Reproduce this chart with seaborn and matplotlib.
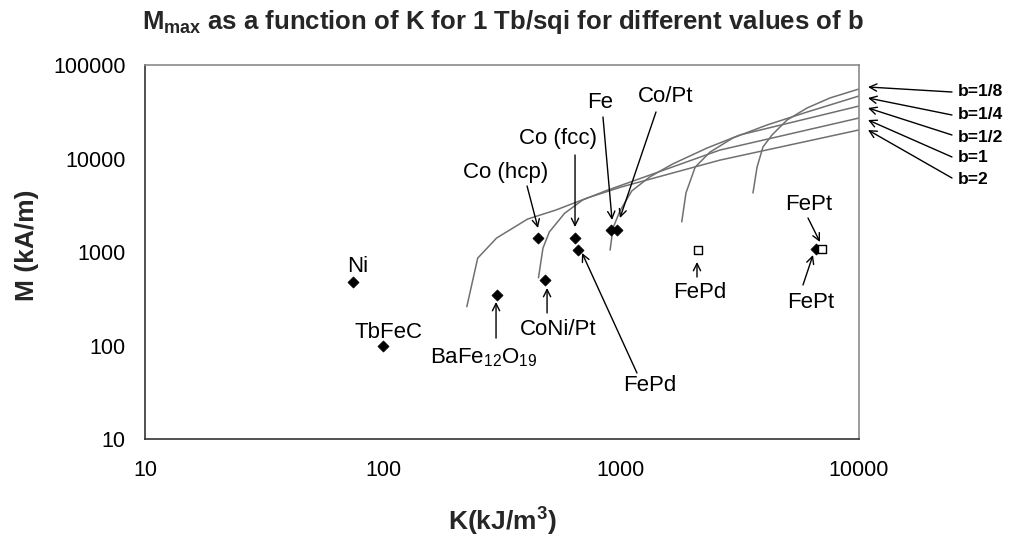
import numpy as np
import pandas as pd
import matplotlib
matplotlib.use("Agg")
import matplotlib.pyplot as plt
import seaborn as sns

# ---------------- data ----------------
b_labels = ["b=1/8", "b=1/4", "b=1/2", "b=1", "b=2"]

K_b18 = [3585, 3730, 3950, 4310, 4985, 6050, 7550, 10000]
M_b18 = [4280, 8100, 13300, 17850, 25800, 34700, 44400, 55400]
K_b14 = [1800, 1875, 2050, 2365, 2955, 4100, 6050, 10000]
M_b14 = [2100, 4280, 8100, 11700, 16600, 22800, 31400, 46600]
K_b12 = [900, 925, 990, 1110, 1320, 1650, 2300, 3160, 10000]
M_b12 = [1050, 1800, 2750, 4500, 6350, 8750, 12950, 17850, 36400]
K_b1 = [450, 470, 500, 580, 690, 860, 2600, 10000]
M_b1 = [530, 1100, 1640, 2600, 3600, 4500, 12300, 27100]
K_b2 = [225, 250, 300, 405, 530, 725, 1000, 2600, 10000]
M_b2 = [260, 860, 1410, 2250, 2800, 3800, 4950, 9600, 20200]

filled_names = ["Ni", "TbFeC", "BaFe12O19", "CoNi/Pt", "Co (hcp)", "Co (fcc)",
                "FePd", "Fe", "Co/Pt", "FePt"]
filled_K = [75, 100, 300, 480, 450, 640, 660, 910, 960, 6600]
filled_M = [480, 100, 350, 500, 1400, 1400, 1050, 1700, 1720, 1080]
open_names = ["FePd", "FePt"]
open_K = [2100, 7000]
open_M = [1050, 1080]

x_ticks = [10, 100, 1000, 10000]
x_ticklabels = ["10", "100", "1000", "10000"]
y_ticks = [10, 100, 1000, 10000, 100000]
y_ticklabels = ["10", "100", "1000", "10000", "100000"]

title_text = r"$\mathbf{M_{max}}$ as a function of K for 1 Tb/sqi for different values of b"
xlabel_text = r"K(kJ/m$^{\mathbf{3}}$)"
ylabel_text = "M (kA/m)"

# material annotations: text, text position (K, M), arrow tail, arrow tip
mat_texts = ["Ni", "TbFeC", r"BaFe$_{\mathregular{12}}$O$_{\mathregular{19}}$", "CoNi/Pt",
             "FePd", "Co (hcp)", "Co (fcc)", "Fe", "Co/Pt", "FePd", "FePt", "FePt"]
mat_text_pos = [(78.5, 708), (105, 139), (266, 73.5), (544, 150),
                (1324, 36.9), (329, 7171), (544, 16170), (816, 40200), (1546, 46600),
                (2147, 373), (6165, 3261), (6285, 285)]
mat_arrow_tail = [None, None, (298.5, 120), (489, 223),
                  (1167, 50.8), (403, 5080), (641, 10900), (840, 27790), (1403, 31430),
                  (2086, 540), (6106, 2310), (5817, 444)]
mat_arrow_tip = [None, None, (298.5, 292), (489, 412),
                 (686, 976), (448, 1806), (641, 1851), (917, 2199), (990, 2310),
                 (2086, 782), (6857, 1279), (6408, 929)]

# b-label annotations
b_text_pos = [(26060, 52060), (26060, 29910), (26060, 16980), (26060, 10250), (26060, 6036)]
b_arrow_tail = [(24590, 51420), (24590, 29190), (24590, 17840), (24590, 10380), (24590, 6184)]
b_arrow_tip = [(10910, 58170), (10910, 44370), (10910, 34680), (10910, 25810), (10910, 20170)]

# ---------------- build frames ----------------
curve_K = [K_b18, K_b14, K_b12, K_b1, K_b2]
curve_M = [M_b18, M_b14, M_b12, M_b1, M_b2]
curves = pd.concat(
    [pd.DataFrame({"K": k, "M": m, "b": lab}) for k, m, lab in zip(curve_K, curve_M, b_labels)],
    ignore_index=True)
filled = pd.DataFrame({"K": filled_K, "M": filled_M, "name": filled_names})
opened = pd.DataFrame({"K": open_K, "M": open_M, "name": open_names})

# ---------------- style ----------------
sns.set_theme(style="white")
plt.rcParams["font.family"] = ["Liberation Sans", "DejaVu Sans"]
plt.rcParams["mathtext.fontset"] = "custom"
plt.rcParams["mathtext.rm"] = "Liberation Sans"
plt.rcParams["mathtext.it"] = "Liberation Sans:italic"
plt.rcParams["mathtext.bf"] = "Liberation Sans:bold"

fig = plt.figure(figsize=(10.12, 5.44), dpi=100)
ax = fig.add_axes([0.14328, 0.19301, 0.70553, 0.6875])

line_gray = "#707070"
sns.lineplot(data=curves, x="K", y="M", hue="b", palette=[line_gray] * 5,
             sort=False, estimator=None, legend=False, linewidth=1.1, ax=ax)
sns.scatterplot(data=filled, x="K", y="M", marker="D", color="black", edgecolor="black",
                s=32, linewidth=0.5, legend=False, ax=ax, zorder=3)
sns.scatterplot(data=opened, x="K", y="M", marker="s", color="white", edgecolor="black",
                s=38, linewidth=1.0, legend=False, ax=ax, zorder=3)

ax.set_xscale("log")
ax.set_yscale("log")
ax.set_xlim(10, 10000)
ax.set_ylim(10, 100000)
ax.set_xticks(x_ticks)
ax.set_xticklabels(x_ticklabels)
ax.set_yticks(y_ticks)
ax.set_yticklabels(y_ticklabels)
ax.minorticks_off()
ax.tick_params(axis="both", which="major", direction="out", length=5, width=1,
               color="#333333", labelsize=15.5, labelcolor="black")
ax.tick_params(axis="x", pad=10)
ax.tick_params(axis="y", pad=9)
ax.grid(False)

for side in ["left", "bottom"]:
    ax.spines[side].set_color("#333333")
    ax.spines[side].set_linewidth(1.2)
for side in ["top", "right"]:
    ax.spines[side].set_color("#8a8a8a")
    ax.spines[side].set_linewidth(1.2)

ax.set_xlabel(xlabel_text, fontsize=19, fontweight="bold")
ax.set_ylabel(ylabel_text, fontsize=19, fontweight="bold")
ax.xaxis.label.set_verticalalignment("center")
ax.yaxis.label.set_verticalalignment("center")
ax.xaxis.set_label_coords(0.5, (439 - 522) / 374)
ax.yaxis.set_label_coords((27 - 145) / 714, (439 - 245) / 374)

fig.text(0.497, 1 - 22 / 544, title_text, ha="center", va="center",
         fontsize=18.5, fontweight="bold")

arrow_kw = dict(arrowstyle="->", color="black", lw=1.0, shrinkA=0, shrinkB=0,
                mutation_scale=13)

for txt, pos, tail, tip in zip(mat_texts, mat_text_pos, mat_arrow_tail, mat_arrow_tip):
    ax.text(pos[0], pos[1], txt, ha="center", va="center", fontsize=16, color="black")
    if tail is not None:
        ax.annotate("", xy=tip, xytext=tail, arrowprops=arrow_kw, annotation_clip=False)

for lab, pos, tail, tip in zip(b_labels, b_text_pos, b_arrow_tail, b_arrow_tip):
    ax.text(pos[0], pos[1], lab, ha="left", va="center", fontsize=12.5,
            fontweight="bold", color="black", clip_on=False)
    ax.annotate("", xy=tip, xytext=tail, arrowprops=arrow_kw, annotation_clip=False)

fig.savefig("out.png", dpi=100)
